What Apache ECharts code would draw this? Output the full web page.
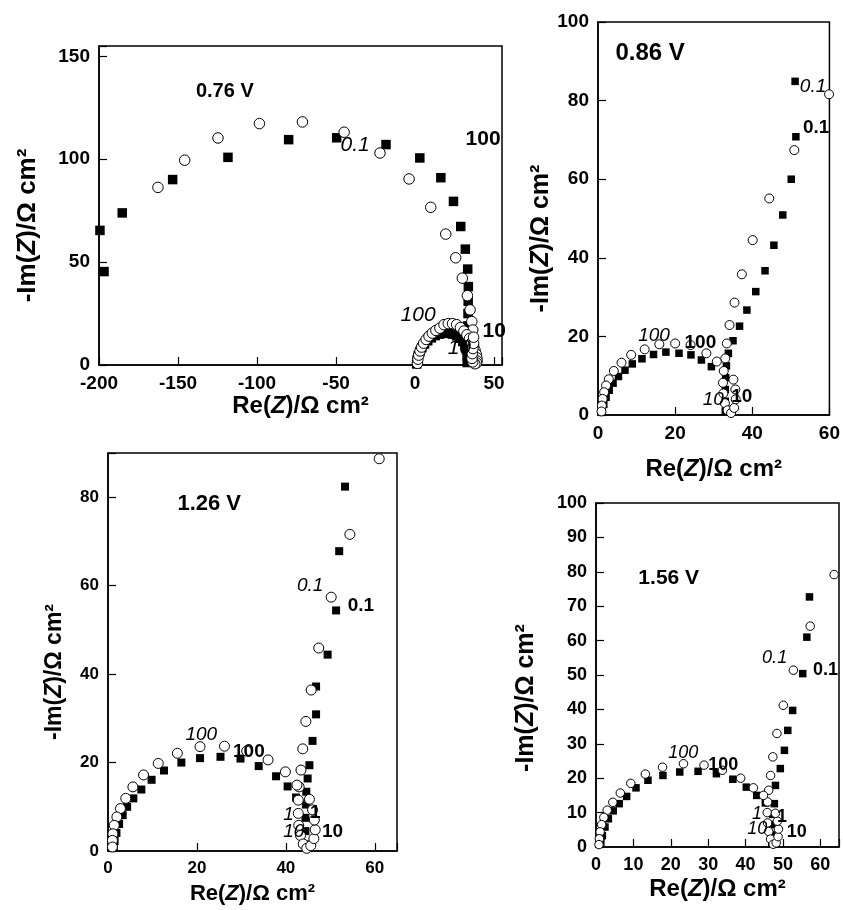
<!DOCTYPE html>
<html lang="en" style="height: 100%">
<head>
  <meta charset="utf-8">
</head>
<body style="height: 100%; margin: 0; background: #fff">
  <div id="container" style="width: 843px; height: 910px"></div>
  <script src="https://cdn.jsdelivr.net/npm/echarts@6/dist/echarts.min.js"></script>
  <script>
    // ---- data (Re, -Im) in ohm cm2 ----
    // 0.76 V
    const sq076 = [
      [-199.4, 65.4], [-196.8, 45.4], [-185.3, 73.9], [-153.4, 90.1], [-118.4, 100.9], [-80, 109.5],
      [-49.6, 110.4], [-18.4, 107.1], [3, 100.6], [16.3, 91], [24.3, 79.5], [28.9, 67.3], [31.8, 56.3],
      [33.3, 46.6], [33.7, 38.1], [33.6, 31], [33.5, 25], [33.4, 19], [33.3, 13.5], [33.2, 8.5], [33.1, 4], [33, 1.2],
      [1, 0.5], [1.3, 2.5], [2, 4.5], [3, 6.5], [4.3, 8.4], [6, 10.2], [8, 11.8], [10.3, 13.2], [12.8, 14.3],
      [15.5, 15], [18.3, 15.4], [21, 15.4], [23.7, 15], [26.2, 14.2], [28.4, 13], [30.2, 11.4], [31.6, 9.5],
      [32.5, 7.5], [33, 5.5]
    ];
    const ci076 = [
      [-162.7, 86.3], [-145.8, 99.5], [-124.7, 110.3], [-98.5, 117.3], [-71.3, 118.1], [-44.9, 113.1],
      [-22.2, 103], [-3.8, 90.4], [9.9, 76.6], [19.4, 63.6], [25.7, 52.1], [29.9, 42.2], [33.1, 33.7],
      [34.8, 26.8], [35.9, 21.1], [36.5, 17],
      [1.5, 0.8], [1.8, 2.8], [2.3, 4.8], [3.1, 6.8], [4.1, 8.7], [5.4, 10.6], [7, 12.4], [8.8, 14], [10.9, 15.5],
      [13.2, 16.8], [15.7, 17.9], [18.3, 19.6], [21, 20.1], [23.7, 20.1], [26.3, 19.6], [28.7, 18.2], [30.9, 16.5],
      [32.8, 14.7], [34.5, 12.9], [35.9, 11], [37.1, 9], [38, 7], [38.7, 5.2], [39.1, 3.5], [39.2, 2], [38.9, 1],
      [37.8, 0.6], [36.5, 1.5], [36, 3.2], [36.2, 5.5], [36.6, 8], [37, 10.5], [37, 13.5]
    ];
    const notes076 = [
      [-139, 133, '0.76 V', 'v'], [-47.5, 107, '0.1', 'i'], [31.6, 109.5, '100', 'b'],
      [-9.5, 24.3, '100', 'i'], [42.4, 16.2, '10', 'b'], [20.3, 8.3, '10', 'i']
    ];

    // 0.86 V
    const sq086 = [
      [51.1, 84.9], [51.3, 70.8], [50.1, 60], [47.9, 50.9], [45.6, 43.2], [43.3, 36.7], [40.9, 31.4],
      [38.6, 26.7], [36.7, 22.6], [35, 18.9], [33.8, 15.7], [33.3, 12.5], [33.1, 9.5], [33, 6.5], [33, 3.5], [33, 1],
      [29.4, 12.3], [26.8, 14], [24.1, 15.3], [21, 15.7], [17.6, 16], [14.4, 15.4], [11.4, 14.3], [8.9, 13],
      [7, 11.4], [5.3, 9.8], [3.9, 8.1], [2.9, 6.3], [2.1, 4.5], [1.5, 2.7], [1.1, 1]
    ];
    const ci086 = [
      [59.9, 81.6], [50.9, 67.4], [44.4, 55.1], [40.1, 44.5], [37.3, 35.8], [35.4, 28.6], [34.1, 22.9],
      [33.4, 18.2], [33, 14.4], [32.6, 11.2], [32.4, 8.2], [32.5, 5.5], [32.9, 3], [33.6, 1.2], [34.5, 0.5],
      [35.3, 1.8], [35.7, 4], [35.6, 6.5], [35.1, 9], [30.8, 13.6], [28.1, 15.7], [24, 17.8], [20, 18.2],
      [15.9, 18], [12.1, 16.7], [8.6, 15.3], [6.1, 13.3], [4.1, 11.2], [2.8, 9.1], [2.1, 7.5], [1.6, 5.8],
      [1.2, 4.1], [1, 2.4], [0.9, 0.9]
    ];
    const notes086 = [
      [4.4, 92, '0.86 V', 'v'], [52.2, 83.5, '0.1', 'i'], [53, 73, '0.1', 'b'], [10.3, 20.3, '100', 'i'],
      [22.3, 18.3, '100', 'b'], [27, 3.8, '10', 'i'], [34.4, 4.6, '10', 'b']
    ];

    // 1.26 V
    const sq126 = [
      [53.3, 82.4], [52, 67.8], [51.3, 54.4], [49.4, 44.4], [46.8, 37.2], [46.8, 30.9], [46, 24.9],
      [45.3, 19.4], [44.9, 16.4], [44.6, 13.4], [44.5, 10.5], [44.4, 7.5], [44.4, 4.5], [44.4, 1.5],
      [42.3, 12.1], [40.4, 14.6], [37.8, 16.9], [33.9, 19.2], [29.8, 20.9], [25.3, 21.3], [20.7, 21],
      [16.5, 20], [12.6, 18.2], [9.8, 16.1], [7.5, 13.9], [5.7, 11.9], [4.3, 10], [3.3, 8.1], [2.5, 6.1],
      [1.9, 4.1], [1.5, 2.3], [1.3, 0.8]
    ];
    const ci126 = [
      [61, 88.7], [54.4, 71.6], [50.2, 57.4], [47.4, 45.9], [45.7, 36.4], [44.5, 29.3], [43.8, 23.1],
      [43.4, 18.3], [43, 14.5], [42.8, 11.5], [42.8, 8.5], [42.9, 5.8], [43.3, 3.5], [43.9, 1.6], [44.7, 0.6],
      [45.6, 1.2], [46.3, 2.8], [46.6, 4.8], [46.4, 7], [46, 9.3], [45.3, 11.7],
      [42.5, 14.9], [39.9, 17.9], [36, 20.6], [31.2, 22.6], [26.2, 23.7], [20.7, 23.6], [15.6, 22.1],
      [11.3, 19.8], [8, 17.2], [5.6, 14.5], [4, 11.9], [2.8, 9.6], [2, 7.7], [1.4, 5.8], [1.1, 3.9],
      [1, 2.4], [1, 0.9]
    ];
    const notes126 = [
      [15.5, 78.4, '1.26 V', 'v'], [42.4, 59.9, '0.1', 'i'], [53.8, 55.5, '0.1', 'b'],
      [17.3, 26.2, '100', 'i'], [28, 22.4, '100', 'b'], [39.3, 8.1, '1', 'i'], [45.3, 8.6, '1', 'b'],
      [39.3, 4.3, '10', 'i'], [48, 4.3, '10', 'b']
    ];

    // 1.56 V
    const sq156 = [
      [57.1, 72.7], [56.4, 61], [55.3, 50.4], [52.6, 39.7], [51.3, 33.9], [50.4, 28.1], [49.3, 22.8],
      [48, 17.9], [47.7, 12.6], [47.3, 9.5], [47.1, 6.5], [47, 3.5], [47, 1],
      [45.3, 12.8], [43, 15], [40.2, 17.4], [36.6, 19.7], [32.2, 21.3], [27.3, 22], [22.4, 21.8],
      [17.9, 20.8], [13.9, 19.4], [10.7, 17.2], [8.2, 14.7], [6.2, 12.6], [4.6, 10.5], [3.3, 8.2],
      [2.4, 5.8], [1.7, 3.3], [1.3, 1.4]
    ];
    const ci156 = [
      [63.7, 79.2], [57.3, 64.2], [52.8, 51.4], [50.1, 41.2], [48.4, 33], [47.3, 26.2], [46.7, 20.8],
      [46.2, 16.5], [45.9, 13.1], [45.8, 10], [45.9, 7], [46.2, 4.5], [46.7, 2.3], [47.4, 0.8], [48.2, 1.2],
      [48.7, 3], [48.8, 5.2], [48.5, 7.5], [48, 9.8],
      [44.8, 15], [42.1, 17.2], [38.7, 20], [33.8, 22.3], [28.9, 23.8], [23.4, 24.2], [17.8, 23.2],
      [13.2, 21.2], [9.3, 18.5], [6.5, 15.7], [4.5, 13], [3, 10.7], [2.1, 8.6], [1.5, 6.5], [1.1, 4.4],
      [0.9, 2.4], [0.8, 0.7]
    ];
    const notes156 = [
      [11.2, 78, '1.56 V', 'v'], [44.3, 54.8, '0.1', 'i'], [57.9, 51.4, '0.1', 'b'],
      [19.2, 27.2, '100', 'i'], [29.9, 23.7, '100', 'b'], [41.6, 9.5, '1', 'i'], [48.3, 8.7, '1', 'b'],
      [40.3, 5.2, '10', 'i'], [50.9, 4.3, '10', 'b']
    ];

    // ---- layout ----
    const FONT = '"Liberation Sans", Arial, Helvetica, sans-serif';
    const panels = [
      { sq: sq076, ci: ci076, notes: notes076,
        grid: { left: 99, top: 46, width: 403, height: 319 },
        x: [-200, 55, 50], y: [0, 155, 50],
        tick: 19, xName: 24, yName: 26, volt: 20, note: 21, sqSize: 9.5, ciSize: 10.5,
        xGap: 29, yGap: 58, yShift: 40 },
      { sq: sq086, ci: ci086, notes: notes086,
        grid: { left: 598, top: 22, width: 234, height: 393 },
        x: [0, 60, 20], y: [0, 100, 20],
        tick: 19, xName: 24, yName: 25, volt: 24, note: 19, sqSize: 7.5, ciSize: 9,
        xGap: 42, yGap: 42, yShift: 40 },
      { sq: sq126, ci: ci126, notes: notes126,
        grid: { left: 108, top: 453, width: 289, height: 398 },
        x: [0, 65, 20], y: [0, 90, 20],
        tick: 17, xName: 22, yName: 23, volt: 22, note: 19, sqSize: 8, ciSize: 10,
        xGap: 32, yGap: 42, yShift: 40 },
      { sq: sq156, ci: ci156, notes: notes156,
        grid: { left: 596, top: 503, width: 243, height: 344 },
        x: [0, 65, 10], y: [0, 100, 10],
        tick: 18, xName: 24, yName: 25, volt: 21, note: 18, sqSize: 7.5, ciSize: 8.5,
        xGap: 30, yGap: 57, yShift: 46 }
    ];

    const grid = [], xAxis = [], yAxis = [], series = [];

    function axis(p, i, r, isX) {
      const fs = isX ? p.xName : p.yName;
      return {
        gridIndex: i,
        type: 'value',
        min: r[0], max: r[1], interval: r[2],
        name: isX ? 'Re({i|Z})/Ω cm²' : '-Im({i|Z})/Ω cm²',
        nameLocation: 'middle',
        nameGap: isX ? p.xGap : p.yGap,
        nameTextStyle: {
          fontFamily: FONT, fontWeight: 'bold', fontSize: fs, color: '#000',
          padding: isX ? 0 : [0, p.yShift, 0, 0],
          rich: { i: { fontFamily: FONT, fontWeight: 'bold', fontStyle: 'italic', fontSize: fs, color: '#000' } }
        },
        axisLine: { show: true, onZero: false, lineStyle: { color: '#000', width: 1.5 } },
        axisTick: { show: true, inside: true, length: 8, lineStyle: { color: '#000', width: 1.2 } },
        splitLine: { show: false },
        axisLabel: {
          fontFamily: FONT, fontWeight: 'bold', fontSize: p.tick, color: '#000', margin: 9,
          formatter: v => (Math.abs(v % r[2]) < 1e-9 ? String(v) : '')
        }
      };
    }

    panels.forEach((p, i) => {
      grid.push(Object.assign({ show: true, borderColor: '#000', borderWidth: 1.5, backgroundColor: '#fff' }, p.grid));
      xAxis.push(axis(p, i, p.x, true));
      yAxis.push(axis(p, i, p.y, false));
      series.push({
        type: 'scatter', xAxisIndex: i, yAxisIndex: i, z: 2,
        symbol: 'rect', symbolSize: p.sqSize,
        itemStyle: { color: '#000', opacity: 1 },
        data: p.sq
      });
      series.push({
        type: 'scatter', xAxisIndex: i, yAxisIndex: i, z: 3,
        symbol: 'circle', symbolSize: p.ciSize,
        itemStyle: { color: '#fff', borderColor: '#000', borderWidth: 1, opacity: 1 },
        data: p.ci
      });
      series.push({
        type: 'scatter', xAxisIndex: i, yAxisIndex: i, z: 5, clip: false,
        symbolSize: 1, itemStyle: { color: 'rgba(0,0,0,0)', opacity: 1 },
        silent: true,
        data: p.notes.map(n => ({ value: [n[0], n[1]], name: n[2], kind: n[3] })),
        label: {
          show: true, position: 'right', distance: 0, color: '#000',
          formatter: prm => '{' + prm.data.kind + '|' + prm.name + '}',
          rich: {
            v: { fontFamily: FONT, fontWeight: 'bold', fontSize: p.volt, color: '#000' },
            b: { fontFamily: FONT, fontWeight: 'bold', fontSize: p.note, color: '#000' },
            i: { fontFamily: FONT, fontStyle: 'italic', fontSize: p.note, color: '#000' }
          }
        }
      });
    });

    const chart = echarts.init(document.getElementById('container'), null, { renderer: 'canvas' });
    chart.setOption({
      backgroundColor: '#fff',
      animation: false,
      grid, xAxis, yAxis, series
    });
  </script>
</body>
</html>
